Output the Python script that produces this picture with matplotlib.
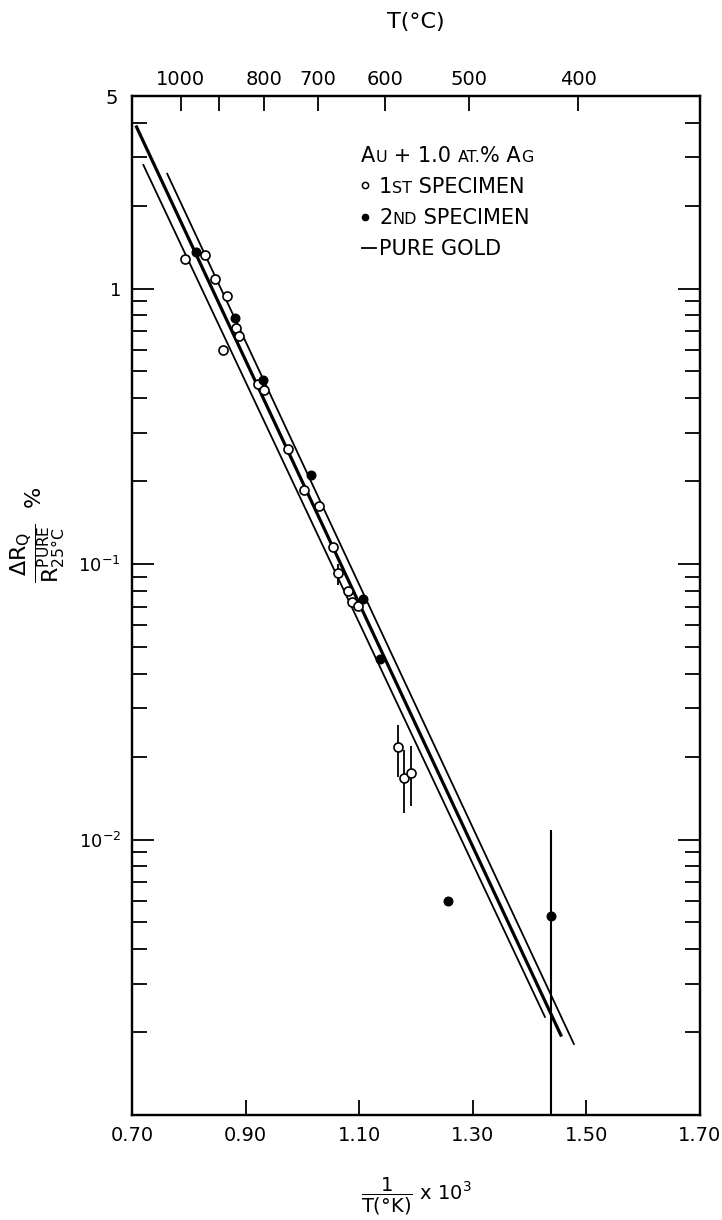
import matplotlib
matplotlib.use("Agg")
import matplotlib.pyplot as plt
import numpy as np
from matplotlib.lines import Line2D
from matplotlib.offsetbox import TextArea, HPacker, VPacker, DrawingArea, AnchoredOffsetbox
from matplotlib.ticker import FuncFormatter

plt.rcParams['font.family'] = ['DejaVu Sans']
plt.rcParams['mathtext.fontset'] = 'dejavusans'

# 1st specimen, open circles
first_x = [0.793, 0.829, 0.846, 0.867, 0.861, 0.883, 0.888, 0.921, 0.933,
           0.974, 1.003, 1.030, 1.053, 1.080, 1.088, 1.098]
first_y = [1.28, 1.32, 1.08, 0.94, 0.60, 0.72, 0.67, 0.45, 0.43,
           0.262, 0.186, 0.163, 0.115, 0.080, 0.073, 0.0705]
# 1st specimen points that carry error bars
first_err_x = [1.062, 1.169, 1.178, 1.191]
first_err_y = [0.093, 0.0216, 0.0167, 0.0174]
first_err_lo = [0.084, 0.0168, 0.0125, 0.0132]
first_err_hi = [0.100, 0.0261, 0.0211, 0.0218]

# 2nd specimen, filled circles
second_x = [0.813, 0.882, 0.931, 1.015, 1.107, 1.137, 1.257]
second_y = [1.36, 0.78, 0.464, 0.211, 0.0745, 0.0453, 0.0060]
second_err_x = [1.438]
second_err_y = [0.00526]
second_err_lo = [0.0009]
second_err_hi = [0.0108]

# pure gold lines (end points)
gold_lo_x = [0.720, 1.427]
gold_lo_y = [2.81, 0.00227]
gold_mid_x = [0.708, 1.455]
gold_mid_y = [3.86, 0.00195]
gold_hi_x = [0.762, 1.478]
gold_hi_y = [2.61, 0.00181]

x_ticks = [0.70, 0.90, 1.10, 1.30, 1.50, 1.70]
x_labels = ['0.70', '0.90', '1.10', '1.30', '1.50', '1.70']
y_ticks = [1e-3, 1e-2, 1e-1, 1]
y_labels = ['', r'$10^{-2}$', r'$10^{-1}$', '1']
top_c = [1000, 900, 800, 700, 600, 500, 400]
top_labels = ['1000', '', '800', '700', '600', '500', '400']

W, H = 722, 1220
fig = plt.figure(figsize=(W / 100, H / 100), dpi=100)
ax = fig.add_axes([132 / W, 1 - 1115 / H, (700 - 132) / W, (1115 - 96) / H])
ax.set_yscale('log')

ax.plot(gold_lo_x, gold_lo_y, color='k', lw=1.3)
ax.plot(gold_mid_x, gold_mid_y, color='k', lw=2.3)
ax.plot(gold_hi_x, gold_hi_y, color='k', lw=1.3)

ax.plot(first_x, first_y, 'o', ms=6.5, mfc='white', mec='k', mew=1.2, zorder=4)
ax.errorbar(first_err_x, first_err_y,
            yerr=[np.subtract(first_err_y, first_err_lo), np.subtract(first_err_hi, first_err_y)],
            fmt='o', ms=6.5, mfc='white', mec='k', mew=1.2, ecolor='k',
            elinewidth=1.3, capsize=0, zorder=4)
ax.plot(second_x, second_y, 'o', ms=6.2, color='k', zorder=5)
ax.errorbar(second_err_x, second_err_y,
            yerr=[np.subtract(second_err_y, second_err_lo), np.subtract(second_err_hi, second_err_y)],
            fmt='o', ms=6.2, color='k', ecolor='k', elinewidth=1.5, capsize=0, zorder=5)

ax.set_xlim(0.70, 1.70)
ax.set_ylim(1e-3, 5)
ax.set_xticks(x_ticks)
ax.set_xticklabels(x_labels)
ax.set_yticks(y_ticks)
ax.set_yticklabels(y_labels)
minor = [m * 10.0 ** e for e in range(-3, 1) for m in range(2, 10) if m * 10.0 ** e <= 5]
ax.set_yticks(minor, minor=True)
ax.yaxis.set_minor_formatter(FuncFormatter(lambda v, p: '5' if abs(v - 5) < 1e-6 else ''))

ax.tick_params(axis='x', which='both', direction='in', top=False, length=11,
               width=1.3, labelsize=14, pad=8)
ax.tick_params(axis='y', which='major', direction='in', left=True, right=True,
               length=16, width=1.3, labelsize=13, pad=8)
ax.tick_params(axis='y', which='minor', direction='in', left=True, right=True,
               length=11, width=1.3, labelsize=14, pad=10)
for s in ax.spines.values():
    s.set_linewidth(1.6)

ax2 = ax.twiny()
ax2.set_xlim(ax.get_xlim())
ax2.set_xticks([1000.0 / (c + 273.15) for c in top_c])
ax2.set_xticklabels(top_labels)
ax2.tick_params(axis='x', direction='in', length=11, width=1.3, labelsize=14, pad=5)
for s in ax2.spines.values():
    s.set_linewidth(1.6)

fig.text(416 / W, 1 - 22 / H, 'T(°C)', ha='center', va='center', fontsize=16)
fig.text(38 / W, 1 - 535 / H,
         r'$\dfrac{\Delta\mathrm{R}_\mathrm{Q}}{\mathrm{R}^{\mathrm{PURE}}_{\mathrm{25\degree C}}}$  %',
         rotation=90, ha='center', va='center', fontsize=16)
fig.text(416 / W, 3 / H, r'$\dfrac{\mathrm{1}}{\mathrm{T(\degree K)}}$ x 10$^3$',
         ha='center', va='bottom', fontsize=14)

# legend block with small caps
big, small = 15, 11.5


def row(parts):
    return HPacker(children=[TextArea(t, textprops=dict(fontsize=f)) for t, f in parts],
                   align='baseline', pad=0, sep=0)


def mark(kind):
    da = DrawingArea(13, 10, 0, 0)
    if kind == 'open':
        da.add_artist(Line2D([3], [5.5], marker='o', ms=4.5, mfc='white', mec='k', mew=1.1))
    elif kind == 'filled':
        da.add_artist(Line2D([3], [5.5], marker='o', ms=4.5, color='k'))
    else:
        da.add_artist(Line2D([1, 11], [5.5, 5.5], color='k', lw=1.3))
    return da


r1 = row([('A', big), ('U', small), (' + 1.0 ', big), ('AT.', small), ('% A', big), ('G', small)])
r2 = HPacker(children=[mark('open'), row([('1', big), ('ST', small), (' SPECIMEN', big)])],
             align='baseline', pad=0, sep=0)
r3 = HPacker(children=[mark('filled'), row([('2', big), ('ND', small), (' SPECIMEN', big)])],
             align='baseline', pad=0, sep=0)
r4 = HPacker(children=[mark('line'), row([('PURE GOLD', big)])], align='baseline', pad=0, sep=0)
vp = VPacker(children=[r1, r2, r3, r4], align='left', pad=0, sep=8)
box = AnchoredOffsetbox(loc='upper left', child=vp, pad=0, borderpad=0, frameon=False,
                        bbox_to_anchor=(361 / W, 1 - 146 / H), bbox_transform=fig.transFigure)
ax.add_artist(box)

fig.savefig('out.png', dpi=100)
